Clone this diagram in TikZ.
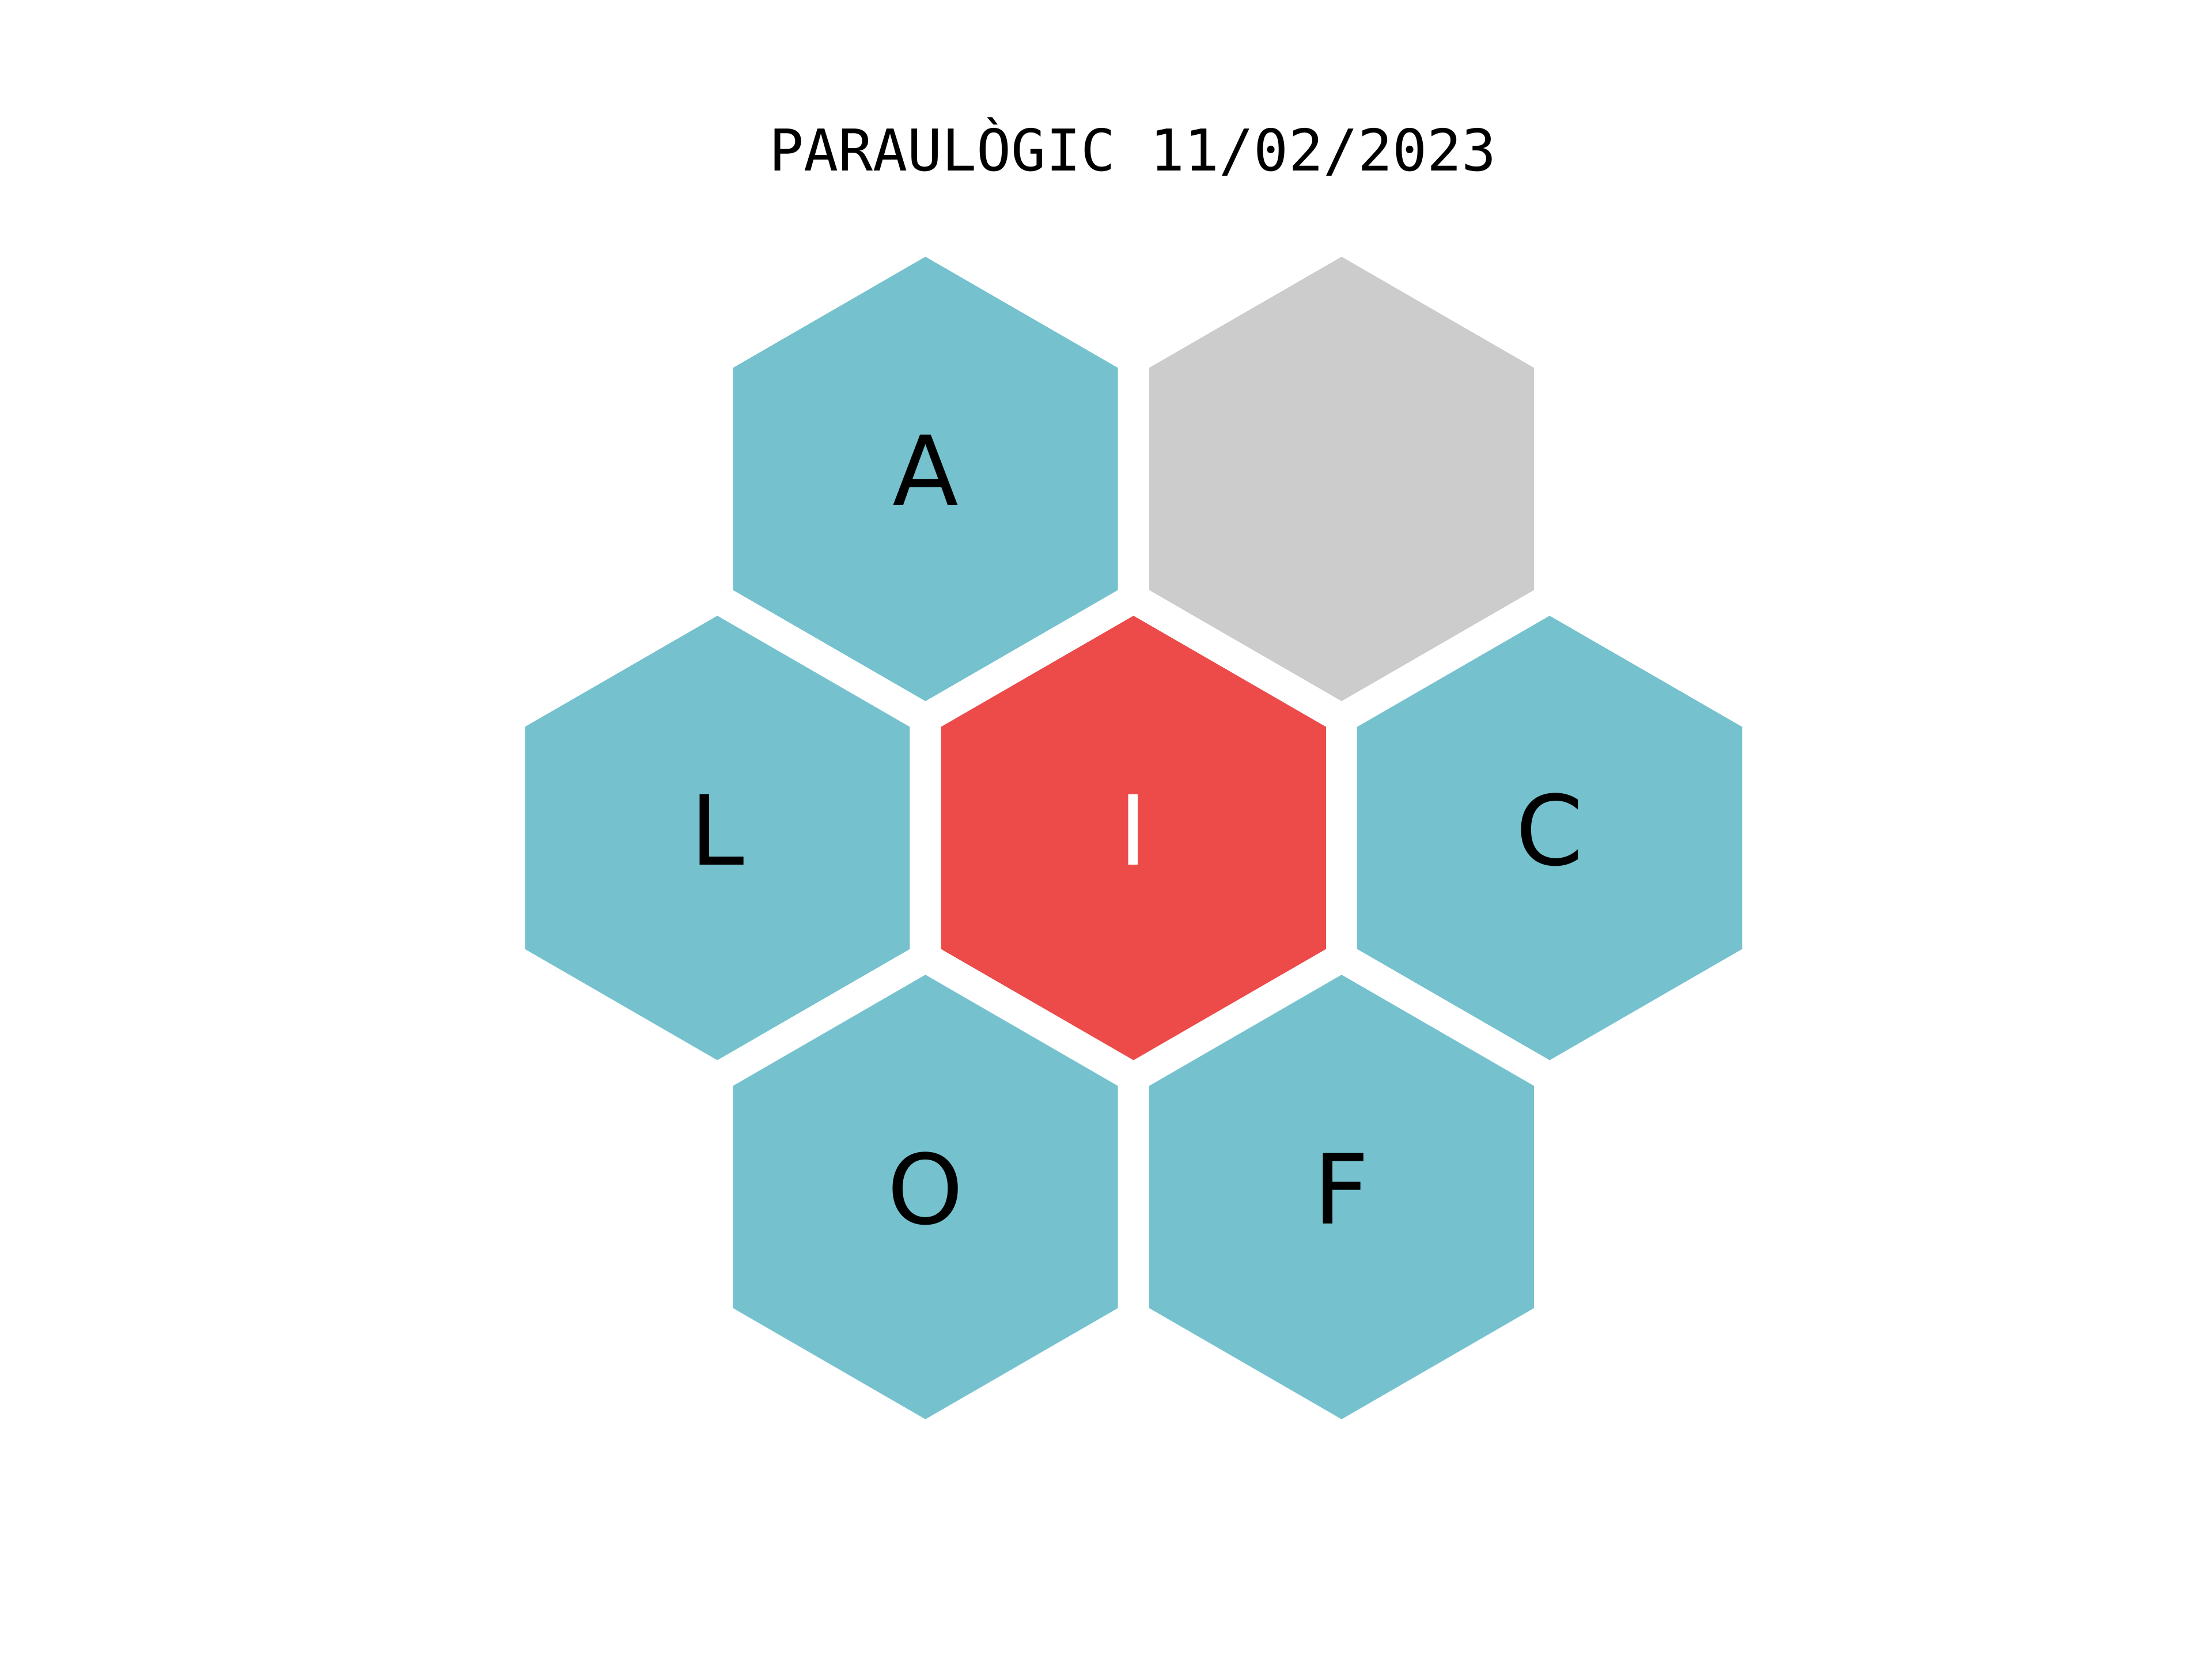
\documentclass[tikz,border=0pt]{standalone}
\usepackage{fontspec}
\setmainfont{DejaVu Sans}
\newfontfamily\titlefont{DejaVu Sans Mono}
\definecolor{hexteal}{RGB}{117,194,206}
\definecolor{hexred}{RGB}{236,75,74}
\definecolor{hexgray}{RGB}{204,204,204}
\tikzset{
  letterlabel/.style={anchor=base, inner sep=0pt, font=\fontsize{19.5}{20}\selectfont},
  titlelabel/.style={anchor=base, inner sep=0pt, font=\titlefont\fontsize{11.6}{13}\selectfont}
}
\newcommand{\hexcell}[6]{%
  \fill[#4] (#2,#3) ++(0,-157.5) -- ++(136.4,78.75) -- ++(0,157.5) -- ++(-136.4,78.75)
     -- ++(-136.4,-78.75) -- ++(0,-157.5) -- cycle;
  \node[letterlabel, text=#6] (#1) at (#2,#3+19) {#5};}
\begin{document}
\begin{tikzpicture}[x=0.01cm, y=-0.01cm]
\fill[white] (0,0) rectangle (1568,1176);
\useasboundingbox (0,0) rectangle (1568,1176);
\node[titlelabel] (title) at (803,121) {PARAULÒGIC 11/02/2023};
\hexcell{a}{656}{339.5}{hexteal}{A}{black}
\hexcell{g}{951}{339.5}{hexgray}{}{black}
\hexcell{l}{508.5}{594}{hexteal}{L}{black}
\hexcell{i}{803.5}{594}{hexred}{I}{white}
\hexcell{c}{1098.5}{594}{hexteal}{C}{black}
\hexcell{o}{656}{848.5}{hexteal}{O}{black}
\hexcell{f}{951}{848.5}{hexteal}{F}{black}
\end{tikzpicture}
\end{document}
